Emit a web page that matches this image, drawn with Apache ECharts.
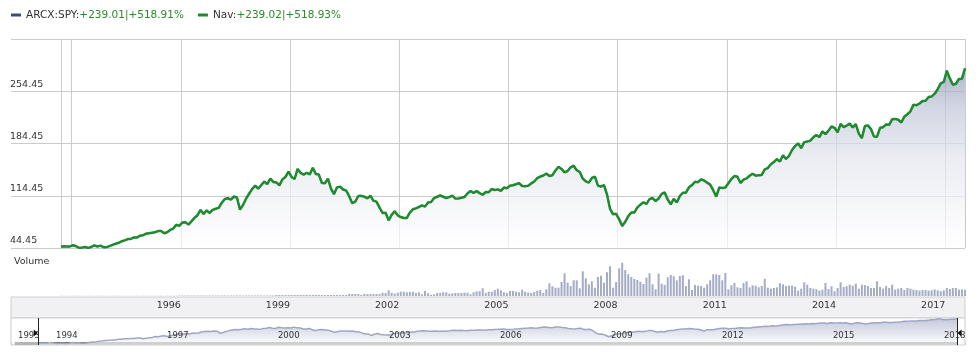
<!DOCTYPE html>
<html><head><meta charset="utf-8">
<script src="https://cdn.jsdelivr.net/npm/echarts@6/dist/echarts.min.js"></script>
<style>html,body{margin:0;padding:0;background:#fff}#c{width:979px;height:359px}</style>
</head><body><div id="c"></div>
<script>
// ---- data (monthly, Sep 1993 .. Jul 2018) ----
const startYear = 1993, startMonth = 9;
const spyClose = [
  46.06, 46.8, 46.3, 46.6,
  48.2, 46.8, 44.6, 45.2, 45.9, 44.5, 46.0, 47.9, 46.5, 47.6, 45.6, 45.6,
  47.0, 48.7, 50.1, 51.4, 53.4, 54.6, 56.4, 56.5, 58.6, 58.4, 60.9, 61.5,
  63.6, 64.3, 64.9, 65.5, 67.1, 67.1, 64.2, 65.6, 68.7, 70.5, 75.6, 74.1,
  78.6, 79.1, 75.8, 80.2, 84.8, 88.4, 95.4, 89.9, 94.9, 91.4, 95.5, 97.0,
  98.2, 105.1, 110.2, 111.1, 109.3, 113.4, 112.1, 95.9, 102.0, 110.5, 117.1, 123.3,
  128.0, 124.1, 128.5, 133.5, 130.0, 137.5, 133.0, 132.3, 128.4, 136.5, 139.6, 146.9,
  139.6, 136.9, 150.4, 145.1, 142.8, 145.3, 143.0, 152.0, 143.6, 142.8, 131.5, 131.2,
  137.4, 124.0, 116.7, 125.7, 126.7, 122.8, 121.5, 113.9, 104.4, 106.6, 114.1, 114.3,
  113.2, 111.0, 114.5, 107.7, 106.6, 98.6, 91.5, 91.6, 81.6, 88.8, 93.7, 88.2,
  85.9, 84.7, 84.7, 91.9, 96.3, 97.6, 99.4, 101.5, 99.9, 105.3, 106.0, 111.3,
  113.1, 114.8, 113.1, 111.4, 112.6, 114.5, 110.6, 110.9, 111.7, 112.7, 117.5, 120.9,
  118.2, 120.6, 118.0, 115.8, 119.5, 119.2, 123.5, 122.1, 123.0, 120.9, 125.4, 124.5,
  128.0, 128.6, 129.8, 131.5, 127.5, 127.3, 128.0, 131.0, 133.6, 138.2, 140.2, 141.6,
  144.2, 140.9, 142.0, 148.3, 153.3, 150.4, 145.7, 147.6, 152.6, 154.7, 148.7, 146.2,
  137.4, 133.8, 132.0, 138.3, 140.1, 128.0, 126.6, 128.8, 116.0, 96.8, 89.6, 90.2,
  82.8, 73.9, 79.5, 87.2, 92.0, 91.9, 98.8, 102.5, 105.6, 103.6, 109.9, 111.4,
  107.4, 110.7, 117.0, 118.8, 109.4, 102.9, 110.3, 105.3, 114.1, 118.5, 118.5, 125.8,
  128.7, 133.2, 132.6, 136.5, 134.9, 132.0, 129.4, 121.9, 113.2, 125.5, 124.9, 125.5,
  131.3, 137.0, 140.8, 139.9, 131.5, 136.1, 137.7, 141.2, 143.9, 141.4, 141.9, 142.4,
  149.7, 151.6, 156.7, 159.7, 163.5, 160.4, 168.7, 163.7, 168.0, 175.8, 181.0, 184.7,
  178.2, 186.3, 187.0, 188.3, 192.7, 195.7, 193.1, 200.7, 197.0, 201.7, 207.2, 205.5,
  199.5, 210.7, 206.4, 208.5, 211.1, 205.9, 210.5, 197.7, 191.6, 207.9, 208.7, 203.9,
  193.7, 193.6, 205.5, 206.3, 210.0, 209.5, 217.1, 217.4, 216.3, 212.6, 220.4, 223.5,
  227.5, 236.5, 235.7, 238.1, 241.4, 241.8, 246.8, 247.5, 251.2, 257.2, 265.0, 266.9,
  281.9, 271.7, 263.2, 264.5, 270.9, 271.3, 285.07
];
const volumeM = [
  50, 40, 50, 60,
  50, 60, 50, 40, 50, 60, 50, 40, 50, 60, 50, 50,
  40, 50, 60, 50, 50, 40, 60, 50, 50, 60, 50, 50,
  60, 50, 50, 60, 50, 60, 50, 60, 50, 60, 50, 120,
  120, 110, 130, 120, 110, 120, 130, 120, 110, 130, 120, 130,
  120, 130, 120, 110, 130, 120, 140, 130, 120, 130, 120, 130,
  120, 130, 140, 120, 130, 120, 130, 250, 240, 260, 250, 240,
  250, 260, 240, 250, 260, 250, 240, 250, 260, 250, 240, 250,
  260, 250, 240, 250, 260, 250, 240, 500, 500, 500, 500, 250,
  500, 480, 520, 500, 490, 510, 830, 750, 1430, 830, 580, 830,
  1080, 1080, 930, 1000, 1080, 750, 930, 430, 1250, 680, 330, 430,
  750, 750, 930, 930, 580, 680, 750, 750, 750, 830, 830, 430,
  930, 1180, 1180, 1930, 750, 1080, 1080, 1500, 1830, 1430, 930, 750,
  1250, 1250, 1080, 930, 1580, 1080, 830, 750, 1000, 1330, 1500, 750,
  1680, 3180, 2430, 2080, 2080, 3500, 5680, 3330, 2500, 3930, 3930, 1930,
  6180, 4430, 2930, 3680, 2080, 4750, 5080, 3330, 5930, 7430, 2080, 3500,
  6930, 8330, 6500, 5430, 4750, 4250, 4000, 3580, 3000, 4580, 5680, 2930,
  1680, 5580, 3080, 2750, 4680, 5250, 4930, 3930, 5000, 5180, 2500, 4180,
  1500, 2750, 2580, 2500, 2080, 2930, 3930, 5430, 5430, 5250, 3930, 5750,
  1680, 2680, 3250, 2180, 2000, 3250, 3680, 2180, 2680, 2580, 2180, 2500,
  4330, 2080, 1830, 2000, 2180, 3180, 2930, 2500, 2580, 2580, 2330, 1330,
  1830, 3430, 2830, 2000, 1830, 1680, 1330, 1580, 3250, 1750, 2430, 1180,
  2000, 3430, 2250, 2430, 2830, 2580, 3080, 1830, 2830, 2750, 2500, 2000,
  2000, 3680, 2250, 1830, 2500, 2000, 2830, 1580, 1830, 2000, 1500, 2000,
  1830, 1580, 1500, 1330, 1500, 1500, 1330, 1430, 1680, 1430, 1180, 1430,
  2000, 1750, 2000, 2000, 1580, 1680, 1580
];
const seriesNames = ['ARCX:SPY', 'Nav'];
const changeText = ['+239.01|+518.91%', '+239.02|+518.93%'];
const yBase = 44.45;   // lowest price tick
const yStep = 70;      // price tick step
const yTicks = 4;      // number of steps
const baseYear = 1994; // x coordinate = years since this year
const yearStep = 3;

// ---- derived ----
const tPos = spyClose.map((_, i) => {
  const m = startMonth - 1 + i;
  return (startYear + Math.floor(m / 12) - baseYear) + ((m % 12) + 0.5) / 12;
});
const tMin = tPos[0], tMax = tPos[tPos.length - 1];
const priceData = spyClose.map((v, i) => [tPos[i], v - yBase]);
const navData = spyClose.map((v, i) => [tPos[i], Math.log10(v)]);   // navigator uses a log scale
const volData = volumeM.map((v, i) => [tPos[i], v]);
const navMin = -1.027, navMax = 24.76;
const navLogMin = Math.log10(40), navLogMax = Math.log10(300);

const FONT = 'DejaVu Sans';
const GRID = '#cbcbcb';
const isTick = v => Math.abs(v - Math.round(v)) < 1e-6 && Math.round(v) % yearStep === 0;

const chart = echarts.init(document.getElementById('c'), null, {renderer: 'canvas'});
chart.setOption({
  animation: false,
  backgroundColor: '#fff',
  textStyle: {fontFamily: FONT},
  legend: {
    left: 11, top: 8, padding: 0, icon: 'rect', itemWidth: 10, itemHeight: 3, itemGap: 14, itemTextGap: 4,
    data: [
      {name: seriesNames[0], itemStyle: {color: '#3d4b7a'}},
      {name: seriesNames[1], itemStyle: {color: '#1f8b2f'}}
    ],
    formatter: n => '{n|' + n + ':}{v|' + changeText[seriesNames.indexOf(n)] + '}',
    textStyle: {
      fontFamily: FONT, fontSize: 10.5, lineHeight: 14,
      rich: {
        n: {fontFamily: FONT, fontSize: 10.5, color: '#333'},
        v: {fontFamily: FONT, fontSize: 10.5, color: '#2b8a2b'}
      }
    }
  },
  title: {text: 'Volume', left: 9, top: 252, textStyle: {fontFamily: FONT, fontSize: 9.5, fontWeight: 'normal', color: '#333'}},
  grid: [
    {left: 61, right: 14, top: 39, height: 209},                       // 0 price
    {left: 11, width: 50, top: 39, height: 209},                        // 1 left extension of price grid lines
    {left: 61, right: 14, top: 258, height: 38},                        // 2 volume
    {left: 11, right: 14, top: 297, height: 21, show: true, backgroundColor: '#f1f1f4', borderColor: '#cfcfcf', borderWidth: 1}, // 3 date band
    {left: 11, right: 14, top: 318, height: 27, show: true, backgroundColor: '#fff', borderColor: '#cfcfcf', borderWidth: 1}    // 4 navigator
  ],
  xAxis: [
    {gridIndex: 0, type: 'value', min: tMin, max: tMax, minInterval: yearStep, maxInterval: yearStep,
     axisLine: {show: false}, axisTick: {show: false}, axisLabel: {show: false},
     splitLine: {show: true, lineStyle: {color: GRID, width: 1}}},
    {gridIndex: 1, type: 'value', show: false},
    {gridIndex: 2, type: 'value', min: tMin, max: tMax, minInterval: yearStep, maxInterval: yearStep, z: 10,
     axisLine: {show: false}, axisTick: {show: false}, splitLine: {show: false},
     axisLabel: {show: true, showMinLabel: false, showMaxLabel: false, margin: 5, align: 'right', fontFamily: FONT, fontSize: 9.5, color: '#333',
       formatter: v => (isTick(v) && v > 0) ? String(baseYear + Math.round(v) - 1) : ''}},
    {gridIndex: 3, type: 'value', show: false},
    {gridIndex: 4, type: 'value', min: navMin, max: navMax, minInterval: yearStep, maxInterval: yearStep, z: 10,
     axisLine: {show: false}, splitLine: {show: false},
     axisTick: {show: true, inside: true, length: 3, lineStyle: {color: '#d8d2a4'}},
     axisLabel: {show: true, inside: true, margin: 5, align: 'left', padding: [0, 0, 0, 7], fontFamily: FONT, fontSize: 8.5, color: '#333',
       formatter: v => (v > navMax - 0.5) ? '' : String(Math.round(baseYear + v))}}
  ],
  yAxis: [
    {gridIndex: 0, type: 'value', min: 0, max: yStep * yTicks, interval: yStep,
     axisLine: {show: false}, axisTick: {show: false},
     splitLine: {show: true, lineStyle: {color: GRID, width: 1}},
     axisLabel: {show: true, showMaxLabel: false, align: 'left', margin: 51, verticalAlign: 'bottom', padding: [0, 0, 2, 0],
       fontFamily: FONT, fontSize: 9.5, color: '#333', formatter: v => (v + yBase).toFixed(2)}},
    {gridIndex: 1, type: 'value', min: 0, max: yStep * yTicks, interval: yStep,
     axisLine: {show: false}, axisTick: {show: false}, axisLabel: {show: false},
     splitLine: {show: true, lineStyle: {color: GRID, width: 1}}},
    {gridIndex: 2, type: 'value', min: 0, max: 9500, show: false},
    {gridIndex: 3, type: 'value', show: false},
    {gridIndex: 4, type: 'value', min: navLogMin, max: navLogMax, show: false},
    {gridIndex: 4, type: 'value', min: 0, max: 27, show: false}
  ],
  series: [
    {name: seriesNames[0], type: 'line', xAxisIndex: 0, yAxisIndex: 0, data: priceData,
     showSymbol: false, color: '#3d4b7a', lineStyle: {color: '#3d4b7a', width: 1.5}, z: 2,
     areaStyle: {color: new echarts.graphic.LinearGradient(0, 0, 0, 1, [
       {offset: 0, color: '#8c96b7'}, {offset: 0.22, color: '#c0c5d8'},
       {offset: 0.5, color: '#e3e5ed'}, {offset: 1, color: '#ffffff'}])}},
    {name: seriesNames[1], type: 'line', xAxisIndex: 0, yAxisIndex: 0, data: priceData,
     showSymbol: false, color: '#1f8b2f', lineStyle: {color: '#1f8b2f', width: 2.5}, z: 3},
    {name: 'Volume', type: 'bar', xAxisIndex: 2, yAxisIndex: 2, data: volData, barWidth: 2,
     itemStyle: {color: '#a4acc6'}},
    {name: 'navigator', type: 'line', xAxisIndex: 4, yAxisIndex: 4, data: navData, showSymbol: false,
     lineStyle: {color: '#9ea6c2', width: 1.5}, z: 1,
     areaStyle: {origin: 'start', color: new echarts.graphic.LinearGradient(0, 0, 0, 1, [
       {offset: 0, color: '#aab1cc'}, {offset: 1, color: '#ffffff'}])}},
    {name: 'selection', type: 'line', xAxisIndex: 4, yAxisIndex: 5, data: [[tMin, 0]], showSymbol: false,
     lineStyle: {opacity: 0}, silent: true, z: 5,
     markArea: {silent: true, data: [
       [{xAxis: navMin + 0.1, yAxis: 0, itemStyle: {color: '#b5b5b5'}}, {xAxis: tMin, yAxis: 3}],
       [{xAxis: tMin, yAxis: 0, itemStyle: {color: '#6b6b6b'}}, {xAxis: tMax, yAxis: 3}]
     ]},
     markLine: {silent: true, symbol: 'none', label: {show: false}, lineStyle: {color: '#222', width: 1, type: 'solid'},
       data: [{xAxis: tMin}, {xAxis: tMax}]},
     markPoint: {silent: true, symbol: 'triangle', symbolSize: [7, 4], label: {show: false}, itemStyle: {color: '#111'},
       data: [
         {coord: [tMin, 12], symbolRotate: -90, symbolOffset: [-2.5, 0]},
         {coord: [tMax, 12], symbolRotate: 90, symbolOffset: [2.5, 0]}
       ]}}
  ]
});
</script></body></html>
